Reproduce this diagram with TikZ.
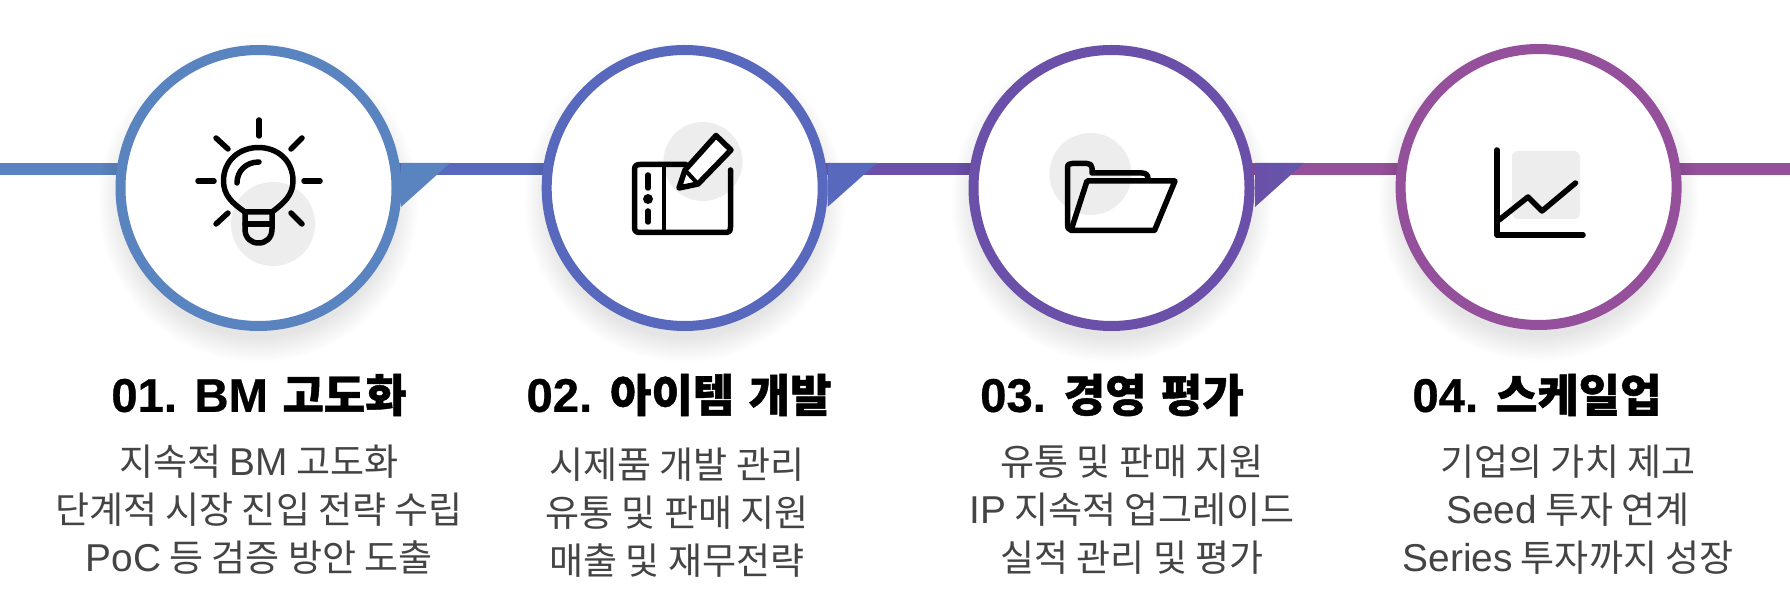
\documentclass[tikz,border=0pt]{standalone}
\usepackage{fontspec}
\setmainfont{Noto Sans CJK KR}[BoldFeatures={FakeBold=1,WordSpace=1.4}]
\newfontfamily\lsans{Liberation Sans}[Scale=1.05]
\newfontfamily\lsansb{Liberation Sans}[Scale=1.05,BoldFeatures={FakeBold=0.6}]
\usetikzlibrary{backgrounds}
\definecolor{ca}{HTML}{5A84BF}
\definecolor{cb}{HTML}{5868BD}
\definecolor{cc}{HTML}{6A50A8}
\definecolor{cd}{HTML}{95509B}
\definecolor{bodytext}{HTML}{444444}
\definecolor{softgray}{HTML}{EDEDED}
\tikzset{
  x=1pt,y=-1pt,
  ring/.style={circle,draw=#1,fill=white,line width=10pt,minimum size=276pt,inner sep=0pt},
  seg/.style={draw=#1,line width=12pt},
  head/.style={font=\fontsize{45}{50}\selectfont\bfseries,text=black,inner sep=0pt},
  body/.style={font=\fontsize{37}{48}\selectfont,text=bodytext,align=center,inner sep=0pt},
  icon/.style={draw=black,line width=5.5pt,line cap=round,line join=round},
  softspot/.style={fill=softgray,draw=none},
  halo/.style={fill=black,fill opacity=0.006,draw=none}
}
\newcommand{\softshadow}[1]{%
  \foreach \r in {136,138,...,160}{\fill[halo] ([yshift=-14pt]#1.center) circle (\r pt);}%
}
\begin{document}
\begin{tikzpicture}
\useasboundingbox (0,0) rectangle (1790,612);
\coordinate (l0) at (0,169);
\coordinate (l5) at (1790,169);
\node[ring=ca] (c1) at (258.5,188) {};
\node[ring=cb] (c2) at (684.7,188) {};
\node[ring=cc] (c3) at (1111.5,188) {};
\node[ring=cd] (c4) at (1538.6,187) {};
\begin{pgfonlayer}{background}
  \fill[white] (0,0) rectangle (1790,612);
  \draw[seg=ca] (l0) -- (c1.center |- l0);
  \draw[seg=cb] (c1.center |- l0) -- (c2.center |- l0);
  \draw[seg=cc] (c2.center |- l0) -- (c3.center |- l0);
  \draw[seg=cd] (c3.center |- l0) -- (c4.center |- l0);
  \draw[seg=cd] (c4.center |- l0) -- (l5);
  \softshadow{c1}\softshadow{c2}\softshadow{c3}\softshadow{c4}
\end{pgfonlayer}
% folds
\fill[ca] (401,163) -- (450,163) -- (401,207) -- cycle;
\fill[cb] (827.5,163) -- (877,163) -- (827.5,207) -- cycle;
\path[left color=cc,right color=cc!75!cb] (1255,163) -- (1304,163) -- (1255,207) -- cycle;
% icon 1: bulb
\fill[softspot] (273,224) circle (42pt);
\draw[icon] (245,212) .. controls (232,203) and (223.5,195) .. (223.5,181)
  .. controls (223.5,160) and (240,147.5) .. (258.5,147.5)
  .. controls (277,147.5) and (293,160) .. (293,181)
  .. controls (293,195) and (284,203) .. (272,212) -- cycle;
\draw[icon] (245,212) -- (245,229) .. controls (245,238) and (251,243) .. (258.5,243)
  .. controls (266,243) and (272,238) .. (272,229) -- (272,212);
\draw[icon] (245,224) -- (272,224);
\draw[icon] (237,183) .. controls (237,171) and (246,162) .. (259,162);
\draw[icon] (259,120) -- (259,136);
\draw[icon] (198,181) -- (214,181);
\draw[icon] (304,181) -- (320,181);
\draw[icon] (216,138) -- (228,149);
\draw[icon] (302,138) -- (291,149);
\draw[icon] (228,213) -- (216,224);
\draw[icon] (291,213) -- (302,224);
% icon 2: tablet and pencil
\fill[softspot] (703,161.5) circle (39.5pt);
\draw[icon] (686,164.5) -- (640,164.5) .. controls (636,164.5) and (634.5,166) .. (634.5,170)
  -- (634.5,227) .. controls (634.5,231) and (636,232.5) .. (640,232.5)
  -- (725,232.5) .. controls (729,232.5) and (730.5,231) .. (730.5,227) -- (730.5,170);
\draw[icon,line width=4pt] (664,164.5) -- (664,232.5);
\draw[icon] (648,175) -- (648,188);
\fill[black] (648,199) circle (5pt);
\draw[icon] (648,211) -- (648,222);
\draw[icon,fill=white] (685,170) -- (716,135.5) -- (731,150) -- (698,184) -- (679,188) -- cycle;
\draw[icon,line width=4pt] (685,170) -- (698,184);
% icon 3: folder
\fill[softspot] (1090.5,174) circle (41pt);
\draw[icon] (1071,230) .. controls (1068,229) and (1067.5,228) .. (1067.5,225) -- (1067.5,168)
  .. controls (1067.5,164.5) and (1069,163.5) .. (1072,163.5) -- (1087,163.5)
  .. controls (1090,163.5) and (1092,165) .. (1092,168) -- (1092,173) -- (1142,173)
  .. controls (1146,173) and (1148,175) .. (1148,179);
\draw[icon] (1087,181) -- (1175,181) -- (1154.5,230.5) -- (1071,230.5) -- cycle;
% icon 4: chart
\fill[softspot,rounded corners=6pt] (1512,151) rectangle (1580,219);
\draw[icon] (1497,150) -- (1497,235) -- (1583,235);
\draw[icon] (1499,220) -- (1528,197) -- (1542,211) -- (1575.5,183);
% text
\node[head] (h1) at (259,395) {{\lsansb 01. BM} 고도화};
\node[head] (h2) at (679,395) {{\lsansb 02.} 아이템 개발};
\node[head] (h3) at (1112,395) {{\lsansb 03.} 경영 평가};
\node[head] (h4) at (1537,395) {{\lsansb 04.} 스케일업};
\node[body] (b1) at (259,510) {지속적 {\lsans BM} 고도화\\단계적 시장 진입 전략 수립\\{\lsans PoC} 등 검증 방안 도출};
\node[body] (b2) at (677,513) {시제품 개발 관리\\유통 및 판매 지원\\매출 및 재무전략};
\node[body] (b3) at (1132,510) {유통 및 판매 지원\\{\lsans IP} 지속적 업그레이드\\실적 관리 및 평가};
\node[body] (b4) at (1568,510) {기업의 가치 제고\\{\lsans Seed} 투자 연계\\{\lsans Series} 투자까지 성장};
\end{tikzpicture}
\end{document}
